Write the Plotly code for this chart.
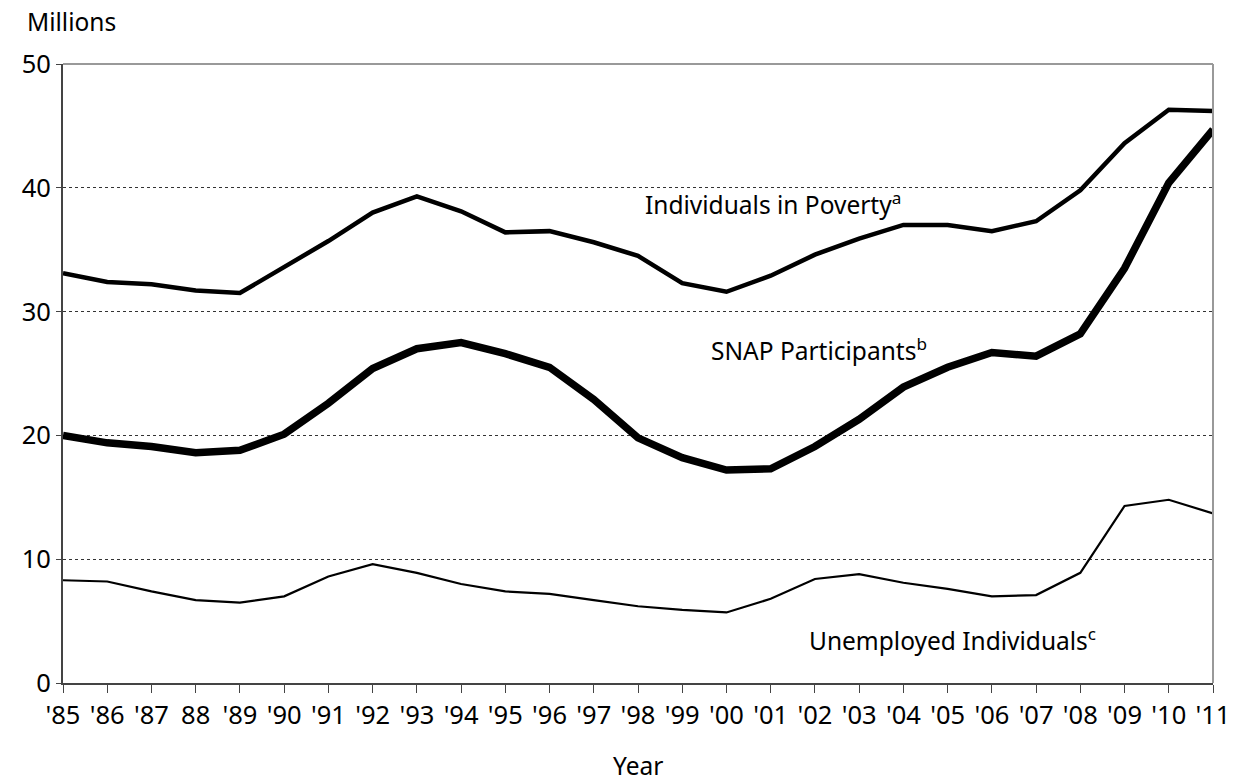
import plotly.graph_objects as go

years = list(range(1985, 2012))
year_labels = ["'85", "'86", "'87", "88", "'89", "'90", "'91", "'92", "'93", "'94",
               "'95", "'96", "'97", "'98", "'99", "'00", "'01", "'02", "'03", "'04",
               "'05", "'06", "'07", "'08", "'09", "'10", "'11"]

poverty = [33.1, 32.4, 32.2, 31.7, 31.5, 33.6, 35.7, 38.0, 39.3, 38.1,
           36.4, 36.5, 35.6, 34.5, 32.3, 31.6, 32.9, 34.6, 35.9, 37.0,
           37.0, 36.5, 37.3, 39.8, 43.6, 46.3, 46.2]
snap = [20.0, 19.4, 19.1, 18.6, 18.8, 20.1, 22.6, 25.4, 27.0, 27.5,
        26.6, 25.5, 22.9, 19.8, 18.2, 17.2, 17.3, 19.1, 21.3, 23.9,
        25.5, 26.7, 26.4, 28.2, 33.5, 40.4, 44.7]
unemployed = [8.3, 8.2, 7.4, 6.7, 6.5, 7.0, 8.6, 9.6, 8.9, 8.0,
              7.4, 7.2, 6.7, 6.2, 5.9, 5.7, 6.8, 8.4, 8.8, 8.1,
              7.6, 7.0, 7.1, 8.9, 14.3, 14.8, 13.7]

FONT = "Noto Sans"
TXT = 24.5
TICK = 25.5

fig = go.Figure()
fig.add_trace(go.Scatter(x=years, y=unemployed, mode="lines",
                         line=dict(color="black", width=2.2), showlegend=False))
fig.add_trace(go.Scatter(x=years, y=poverty, mode="lines",
                         line=dict(color="black", width=4.5), showlegend=False))
fig.add_trace(go.Scatter(x=years, y=snap, mode="lines",
                         line=dict(color="black", width=7.5), showlegend=False))

annots = [
    dict(x=2001.06, y=38.7, text="Individuals in Poverty<sup>a</sup>"),
    dict(x=2002.10, y=26.9, text="SNAP Participants<sup>b</sup>"),
    dict(x=2005.12, y=3.5, text="Unemployed Individuals<sup>c</sup>"),
]
for a in annots:
    fig.add_annotation(x=a["x"], y=a["y"], text=a["text"], showarrow=False,
                       xref="x", yref="y", xanchor="center", yanchor="middle",
                       font=dict(family=FONT, size=TXT, color="black"))

fig.add_annotation(text="Millions", x=-0.033, y=1.068, xref="paper", yref="paper",
                   xanchor="left", yanchor="middle", showarrow=False,
                   font=dict(family=FONT, size=TXT, color="black"))
fig.add_annotation(text="Year", x=0.5, y=-0.133, xref="paper", yref="paper",
                   xanchor="center", yanchor="middle", showarrow=False,
                   font=dict(family=FONT, size=TXT, color="black"))

# top and right gray border
fig.add_shape(type="line", xref="paper", yref="paper", x0=0, x1=1, y0=1, y1=1,
              line=dict(color="#999999", width=2))
fig.add_shape(type="line", xref="paper", yref="paper", x0=1, x1=1, y0=0, y1=1,
              line=dict(color="#999999", width=2))

fig.update_layout(
    width=1242, height=781,
    margin=dict(l=63, r=27, t=64, b=98),
    paper_bgcolor="white", plot_bgcolor="white",
    font=dict(family=FONT, size=TXT, color="black"),
    xaxis=dict(
        range=[1985, 2011], tickmode="array", tickvals=years, ticktext=year_labels,
        showgrid=False, zeroline=False, showline=True, linecolor="#444444", linewidth=2,
        ticks="outside", ticklen=8, tickcolor="#444444", tickwidth=1,
        tickfont=dict(family=FONT, size=TICK),
    ),
    yaxis=dict(
        range=[0, 50], tickvals=[0, 10, 20, 30, 40, 50],
        showgrid=True, gridcolor="#333333", griddash="dot", gridwidth=1,
        zeroline=False, showline=True, linecolor="#444444", linewidth=2,
        ticks="outside", ticklen=5, tickcolor="#444444",
        tickfont=dict(family=FONT, size=TICK),
    ),
)

# remove the default 8px page margin so the figure fills the window exactly
fig.write_html("out.html",
               config={"displayModeBar": False},
               post_script="document.body.style.margin='0';document.body.style.overflow='hidden';")
